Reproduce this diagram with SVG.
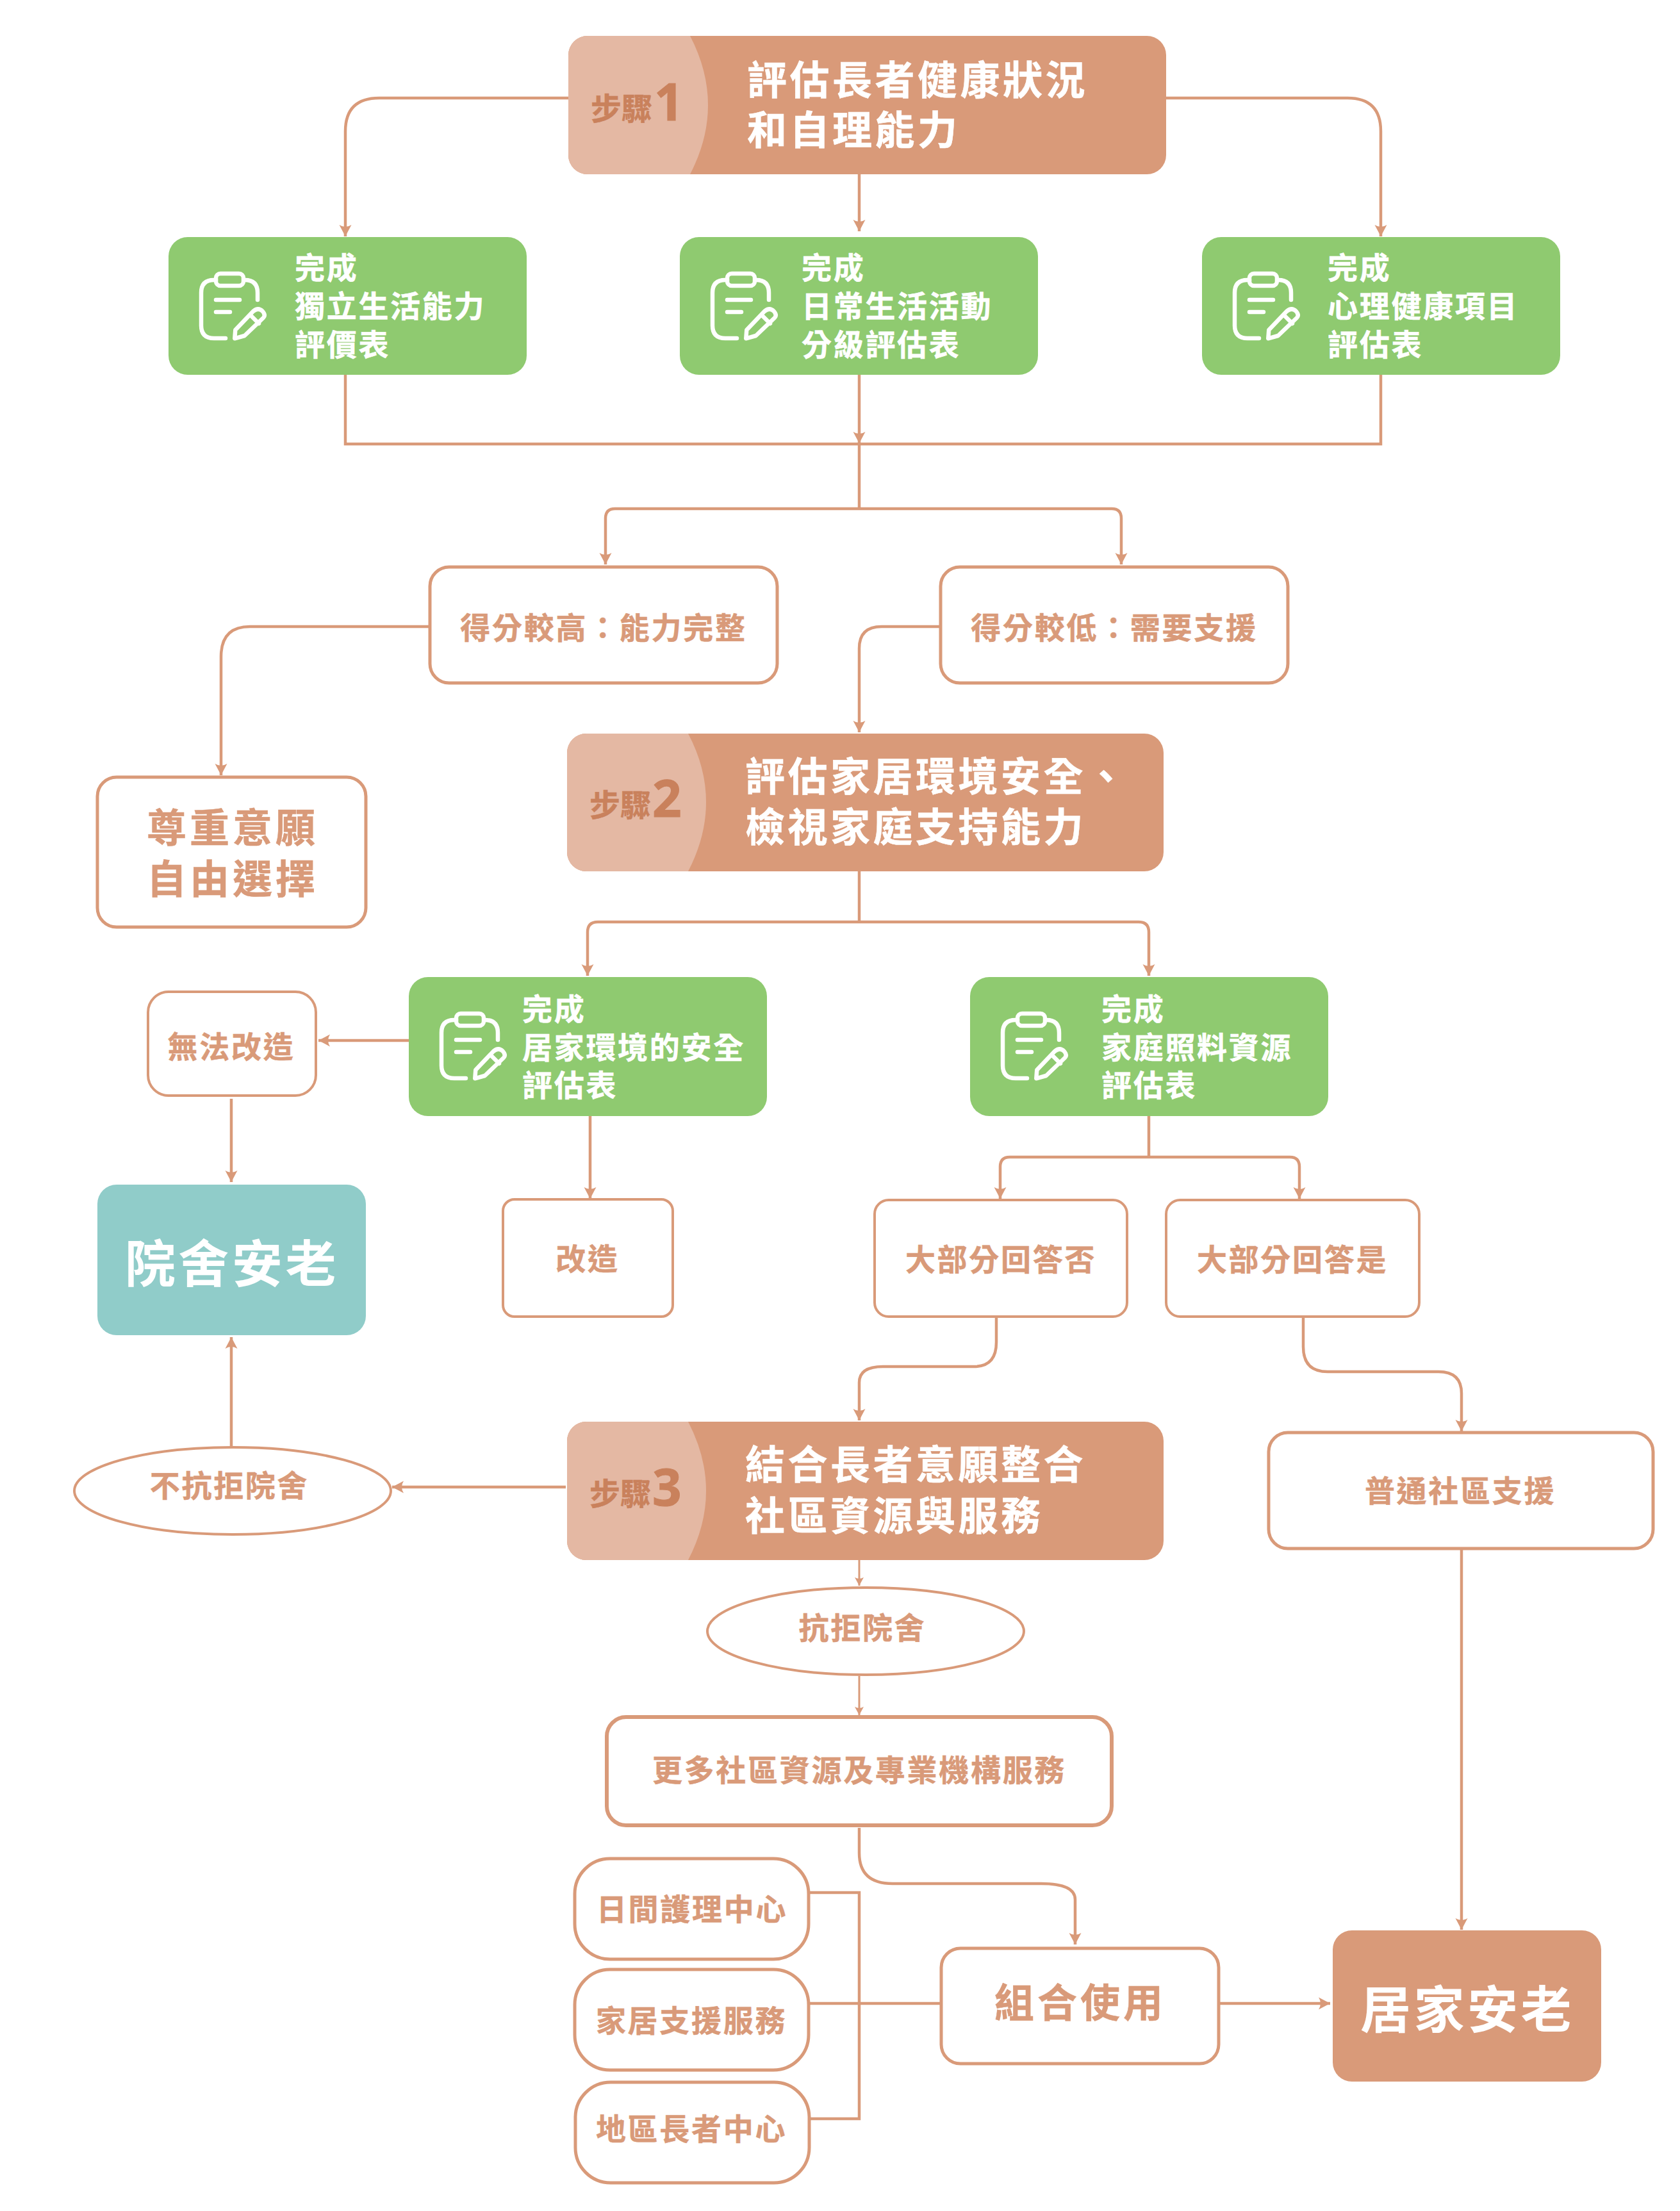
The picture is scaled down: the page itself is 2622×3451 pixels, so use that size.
<svg xmlns="http://www.w3.org/2000/svg" xmlns:xlink="http://www.w3.org/1999/xlink" width="2622" height="3451" viewBox="0 0 2622 3451">
<style>
text{font-family:"Noto Sans CJK TC","Noto Sans CJK SC",sans-serif;font-weight:700}
.o{fill:#fff;stroke:#d99a79;stroke-width:5}
.ot{stroke-width:4}
.ow{stroke-width:6}
.main{fill:#d99a79}
.light{fill:#e4b8a3}
.green{fill:#8fca70}
.teal{fill:#90ccc9}
.t66{font-size:62px;letter-spacing:4.5px;fill:#fff;stroke:#fff;stroke-width:.5px}
.g{font-size:47px;letter-spacing:2.7px;fill:#fff;stroke:#fff;stroke-width:.5px}
.b{font-size:47px;letter-spacing:2.7px;fill:#d99a79;stroke:#d99a79;stroke-width:.5px;text-anchor:middle}
.b64{font-size:62px;letter-spacing:5px;fill:#d99a79;stroke:#d99a79;stroke-width:.5px;text-anchor:middle}
.big{font-size:79px;letter-spacing:4.5px;text-anchor:middle;fill:#fff}
.sb{font-size:48px;fill:#c9815c;stroke:#c9815c;stroke-width:.5px}
.sn{font-size:80px;fill:#c9815c;stroke:#c9815c;stroke-width:1px;font-family:"Noto Sans",sans-serif}
.c{fill:none;stroke:#d99a79;stroke-width:4.5}
.th{stroke-width:3}
.ic{fill:none;stroke:#fff;stroke-width:6.5;stroke-linecap:round;stroke-linejoin:round}
</style>
<defs>
<marker id="a" markerUnits="userSpaceOnUse" markerWidth="20" markerHeight="20" refX="18" refY="10" orient="auto" viewBox="0 0 20 20"><path d="M0 .5L18 10L0 19.5Q6 10 0 .5Z" fill="#d99a79"/></marker>
<marker id="s" markerUnits="userSpaceOnUse" markerWidth="14" markerHeight="16" refX="13" refY="8" orient="auto" viewBox="0 0 14 16"><path d="M0 1L13 8L0 15Q4 8 0 1Z" fill="#d99a79"/></marker>
<g id="icon">
<rect class="ic" x="26" y="3" width="43" height="19" rx="7"/>
<path class="ic" d="M91 44V33Q91 13 71 13M26 13H23Q3 13 3 33V84Q3 104 23 104H41"/>
<path class="ic" d="M26 44H63M26 63H48"/>
<path class="ic" d="M55.3 104.3L56.3 91L84 62Q92 55 99 62Q104 68 100 72L70.7 100ZM81 69L93 81"/>
</g>
</defs>
<g id="connectors">
<path class="c" marker-end="url(#a)" d="M887 153H592Q539 153 539 205V369"/>
<path class="c" marker-end="url(#a)" d="M1820 153H2103Q2155 153 2155 205V369"/>
<path class="c" marker-end="url(#a)" d="M1341 272V361"/>
<path class="c" d="M539 585V693H2155V585"/>
<path class="c" marker-end="url(#a)" d="M1341 585V692"/>
<path class="c" d="M1341 693V795"/>
<path class="c" marker-end="url(#a)" d="M1341 794H960Q945 794 945 809V881"/>
<path class="c" marker-end="url(#a)" d="M1341 794H1735Q1750 794 1750 809V881"/>
<path class="c" marker-end="url(#a)" d="M671 978H390Q345 978 345 1025V1210"/>
<path class="c" marker-end="url(#a)" d="M1468 978H1376Q1341 978 1341 1012V1143"/>
<path class="c" d="M1341 1360V1439"/>
<path class="c" marker-end="url(#a)" d="M1341 1439H933Q917 1439 917 1455V1523"/>
<path class="c" marker-end="url(#a)" d="M1341 1439H1777Q1793 1439 1793 1455V1523"/>
<path class="c" marker-end="url(#a)" d="M638 1624H497"/>
<path class="c" marker-end="url(#a)" d="M921 1742V1871"/>
<path class="c" marker-end="url(#a)" d="M361 1715V1845"/>
<path class="c" marker-end="url(#a)" d="M361 2258V2087"/>
<path class="c" d="M1793 1742V1806"/>
<path class="c" marker-end="url(#a)" d="M1793 1806H1576Q1561 1806 1561 1821V1871"/>
<path class="c" marker-end="url(#a)" d="M1793 1806H2013Q2028 1806 2028 1821V1871"/>
<path class="c" marker-end="url(#a)" d="M1555 2055V2095Q1555 2133 1520 2133H1378Q1341 2133 1341 2158V2217"/>
<path class="c" marker-end="url(#a)" d="M2034 2055V2102Q2034 2141 2072 2141H2245Q2281 2141 2281 2175V2234"/>
<path class="c" marker-end="url(#a)" d="M883 2321H612"/>
<path class="c th" marker-end="url(#s)" d="M1341 2435V2475"/>
<path class="c th" marker-end="url(#s)" d="M1341 2616V2677"/>
<path class="c" marker-end="url(#a)" d="M1341 2853V2892Q1341 2940 1393 2940H1625Q1678 2940 1678 2965V3035"/>
<path class="c" d="M1262 2954H1341V3307H1263"/>
<path class="c" d="M1262 3127H1469"/>
<path class="c" marker-end="url(#a)" d="M1902 3127H2076"/>
<path class="c" marker-end="url(#a)" d="M2281 2417V3012"/>
</g>
<g id="step1">
<rect class="main" x="887" y="56" width="933" height="216" rx="30"/>
<path class="light" d="M917 56H1077Q1105 110 1105 164Q1105 218 1077 272H917A30 30 0 0 1 887 242V86A30 30 0 0 1 917 56Z"/>
<text class="sb" x="922" y="187">步驟</text><text class="sn" x="1021" y="188">1</text>
<text class="t66"><tspan x="1166" y="148">評估長者健康狀況</tspan><tspan x="1166" y="226">和自理能力</tspan></text>
</g>
<g id="form1">
<rect class="green" x="263" y="370" width="559" height="215" rx="30"/>
<use href="#icon" xlink:href="#icon" x="311" y="424"/>
<text class="g"><tspan x="460" y="435">完成</tspan><tspan x="460" y="495">獨立生活能力</tspan><tspan x="460" y="555">評價表</tspan></text>
</g>
<g id="form2">
<rect class="green" x="1061" y="370" width="559" height="215" rx="30"/>
<use href="#icon" xlink:href="#icon" x="1109" y="424"/>
<text class="g"><tspan x="1251" y="435">完成</tspan><tspan x="1251" y="495">日常生活活動</tspan><tspan x="1251" y="555">分級評估表</tspan></text>
</g>
<g id="form3">
<rect class="green" x="1876" y="370" width="559" height="215" rx="30"/>
<use href="#icon" xlink:href="#icon" x="1924" y="424"/>
<text class="g"><tspan x="2072" y="435">完成</tspan><tspan x="2072" y="495">心理健康項目</tspan><tspan x="2072" y="555">評估表</tspan></text>
</g>
<g id="high"><rect class="o" x="671" y="885" width="542" height="181" rx="30"/><text class="b" x="942" y="997">得分較高&#xFF1A;能力完整</text></g>
<g id="low"><rect class="o" x="1468" y="885" width="542" height="181" rx="30"/><text class="b" x="1739" y="997">得分較低&#xFF1A;需要支援</text></g>
<g id="respect"><rect class="o" x="152" y="1213" width="419" height="234" rx="30"/><text class="b64"><tspan x="363" y="1315">尊重意願</tspan><tspan x="363" y="1395">自由選擇</tspan></text></g>
<g id="step2">
<rect class="main" x="885" y="1145" width="931" height="215" rx="30"/>
<path class="light" d="M915 1145H1074Q1102 1198 1102 1252Q1102 1306 1074 1360H915A30 30 0 0 1 885 1330V1175A30 30 0 0 1 915 1145Z"/>
<text class="sb" x="920" y="1274">步驟</text><text class="sn" x="1018" y="1275">2</text>
<text class="t66"><tspan x="1163" y="1235">評估家居環境安全、</tspan><tspan x="1163" y="1314">檢視家庭支持能力</tspan></text>
</g>
<g id="form4">
<rect class="green" x="638" y="1525" width="559" height="217" rx="30"/>
<use href="#icon" xlink:href="#icon" x="686" y="1579"/>
<text class="g"><tspan x="815" y="1592">完成</tspan><tspan x="815" y="1652">居家環境的安全</tspan><tspan x="815" y="1711">評估表</tspan></text>
</g>
<g id="form5">
<rect class="green" x="1514" y="1525" width="559" height="217" rx="30"/>
<use href="#icon" xlink:href="#icon" x="1562" y="1579"/>
<text class="g"><tspan x="1719" y="1592">完成</tspan><tspan x="1719" y="1652">家庭照料資源</tspan><tspan x="1719" y="1711">評估表</tspan></text>
</g>
<g id="cannot"><rect class="o ot" x="231" y="1548" width="262" height="162" rx="32"/><text class="b" x="361" y="1651">無法改造</text></g>
<g id="institution"><rect class="teal" x="152" y="1849" width="419" height="235" rx="30"/><text class="big" x="362" y="2002">院舍安老</text></g>
<g id="improve"><rect class="o ot" x="785" y="1872" width="265" height="183" rx="18"/><text class="b" x="917" y="1982">改造</text></g>
<g id="no"><rect class="o ot" x="1365" y="1873" width="394" height="182" rx="22"/><text class="b" x="1562" y="1983">大部分回答否</text></g>
<g id="yes"><rect class="o ot" x="1820" y="1873" width="395" height="182" rx="22"/><text class="b" x="2017" y="1983">大部分回答是</text></g>
<g id="step3">
<rect class="main" x="885" y="2219" width="931" height="216" rx="30"/>
<path class="light" d="M915 2219H1074Q1102 2273 1102 2327Q1102 2381 1074 2435H915A30 30 0 0 1 885 2405V2249A30 30 0 0 1 915 2219Z"/>
<text class="sb" x="920" y="2349">步驟</text><text class="sn" x="1018" y="2350">3</text>
<text class="t66"><tspan x="1163" y="2309">結合長者意願整合</tspan><tspan x="1163" y="2389">社區資源與服務</tspan></text>
</g>
<g id="notresist"><ellipse class="o ot" cx="363" cy="2327" rx="247" ry="68"/><text class="b" x="358" y="2336">不抗拒院舍</text></g>
<g id="resist"><ellipse class="o ot" cx="1351" cy="2546" rx="247" ry="68"/><text class="b" x="1346" y="2558">抗拒院舍</text></g>
<g id="general"><rect class="o" x="1980" y="2236" width="600" height="181" rx="30"/><text class="b" x="2279" y="2344">普通社區支援</text></g>
<g id="more"><rect class="o ow" x="947" y="2680" width="788" height="169" rx="30"/><text class="b" x="1341" y="2780">更多社區資源及專業機構服務</text></g>
<g id="day"><rect class="o" x="897" y="2901" width="365" height="157" rx="55"/><text class="b" x="1080" y="2997">日間護理中心</text></g>
<g id="home"><rect class="o" x="897" y="3074" width="365" height="157" rx="55"/><text class="b" x="1079" y="3171">家居支援服務</text></g>
<g id="elder"><rect class="o" x="898" y="3250" width="365" height="157" rx="55"/><text class="b" x="1079" y="3340">地區長者中心</text></g>
<g id="combine"><rect class="o" x="1469" y="3041" width="433" height="180" rx="30"/><text class="b64" x="1686" y="3149">組合使用</text></g>
<g id="homecare"><rect class="main" x="2080" y="3013" width="419" height="236" rx="30"/><text class="big" x="2290" y="3166">居家安老</text></g>
</svg>
